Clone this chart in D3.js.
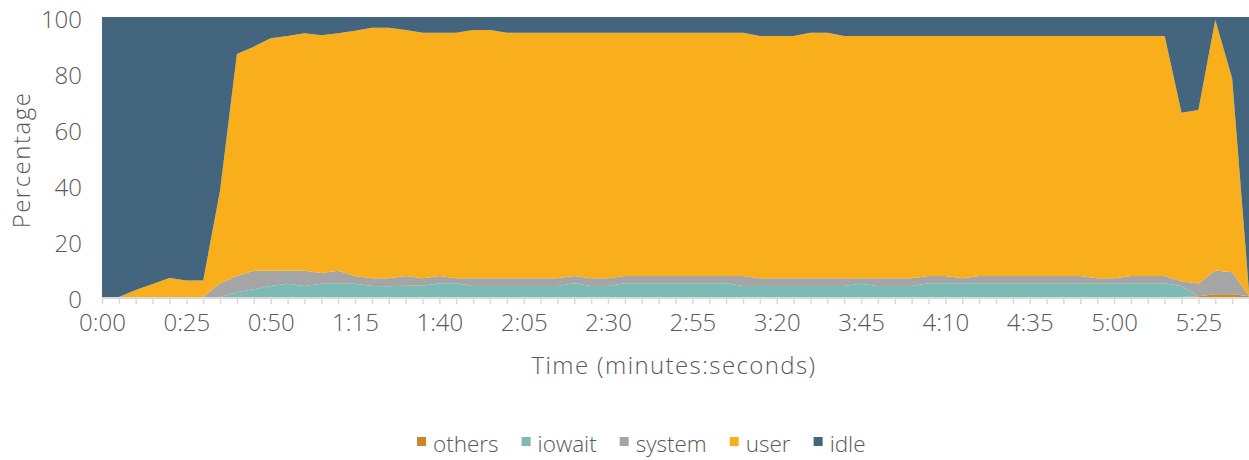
<!DOCTYPE html>
<html>
<head>
<meta charset="utf-8">
<script src="https://cdn.jsdelivr.net/npm/d3@7"></script>
<style>
  body { margin: 0; background: #fff; }
  svg { display: block; }
  text { font-family: "Open Sans", Lato, sans-serif; font-weight: 300; fill: #595959; }
</style>
</head>
<body>
<svg width="1249" height="460"></svg>
<script>
// CPU utilisation, one sample every 5 seconds (0:00 .. 5:40)
const seconds = d3.range(0, 345, 5);

const others = [0,0,0,0,0,0,0,0,0,0,
  0,0,0,0,0,0,0,0,0,0,
  0,0,0,0,0,0,0,0,0,0,
  0,0,0,0,0,0,0,0,0,0,
  0,0,0,0,0,0,0,0,0,0,
  0,0,0,0,0,0,0,0,0,0,
  0,0,0,0,0,0.3,1.0,1.0,0.3];

const iowait = [0,0,0,0,0,0,0,0,1.7,2.8,
  3.9,4.7,3.9,4.7,4.7,4.7,3.9,3.8,4.0,4.0,
  4.9,4.9,3.9,3.9,3.9,3.9,3.9,3.9,4.9,3.9,
  3.9,4.9,4.9,4.9,4.9,4.9,4.9,4.9,3.9,3.9,
  3.9,3.9,3.9,3.9,3.9,4.7,3.9,3.9,3.9,4.9,
  4.9,4.9,4.9,4.9,4.9,4.9,4.9,4.9,4.9,4.9,
  4.9,4.9,4.9,4.9,3.8,0,0,0,0];

const system = [0,0,0,0,0,0,0,4.9,5.8,6.6,
  5.5,4.7,5.5,3.9,4.7,2.8,2.8,2.9,3.5,2.7,
  2.6,1.8,2.8,2.8,2.8,2.8,2.8,2.8,2.6,2.8,
  2.8,2.6,2.6,2.6,2.6,2.6,2.6,2.6,3.6,2.8,
  2.8,2.8,2.8,2.8,2.8,2.0,2.8,2.8,2.8,2.6,
  2.6,1.8,2.6,2.6,2.6,2.6,2.6,2.6,2.6,1.8,
  1.8,2.6,2.6,2.6,1.8,4.5,8.5,7.8,0.1];

const user = [0,0,2.5,4.6,6.8,5.9,5.9,33.1,79.3,80.0,
  83.0,83.8,84.8,84.9,84.8,87.6,89.5,89.5,87.9,87.7,
  86.9,87.7,88.7,88.7,87.7,87.7,87.7,87.7,86.9,87.7,
  87.7,86.9,86.9,86.9,86.9,86.9,86.9,86.9,86.9,86.5,
  86.5,86.5,87.7,87.7,86.5,86.5,86.5,86.5,86.5,85.7,
  85.7,86.5,85.7,85.7,85.7,85.7,85.7,85.7,85.7,86.5,
  86.5,85.7,85.7,85.7,60.2,62.0,89.4,69.3,1.6];

const idle = [100,100,97.5,95.4,93.2,94.1,94.1,62.0,13.2,10.6,
  7.6,6.8,5.8,6.5,5.8,4.9,3.8,3.8,4.6,5.6,
  5.6,5.6,4.6,4.6,5.6,5.6,5.6,5.6,5.6,5.6,
  5.6,5.6,5.6,5.6,5.6,5.6,5.6,5.6,5.6,6.8,
  6.8,6.8,5.6,5.6,6.8,6.8,6.8,6.8,6.8,6.8,
  6.8,6.8,6.8,6.8,6.8,6.8,6.8,6.8,6.8,6.8,
  6.8,6.8,6.8,6.8,34.2,33.2,1.1,21.9,98.0];

const keys = ["others", "iowait", "system", "user", "idle"];
const colors = ["#C9892A", "#7CBAB4", "#A5A5A5", "#F9AF1C", "#43667E"];
const yTicks = [0, 20, 40, 60, 80, 100];

const table = seconds.map((t, i) => ({
  t: t, others: others[i], iowait: iowait[i], system: system[i], user: user[i], idle: idle[i]
}));

const svg = d3.select("svg");
const plotLeft = 102, plotRight = 1249, plotTop = 17, plotBottom = 297;

const x = d3.scaleLinear().domain([0, 340]).range([plotLeft, plotRight]);
const y = d3.scaleLinear().domain([0, 100]).range([plotBottom, plotTop]);
const color = d3.scaleOrdinal().domain(keys).range(colors);

const series = d3.stack().keys(keys)(table);

const area = d3.area()
  .x(d => x(d.data.t))
  .y0(d => y(d[0]))
  .y1(d => y(d[1]));

svg.append("g")
  .selectAll("path")
  .data(series)
  .enter().append("path")
  .attr("fill", d => color(d.key))
  .attr("d", area);

// x axis: tick at every sample, label every 25 s
const fmt = s => Math.floor(s / 60) + ":" + String(s % 60).padStart(2, "0");
const xAxis = svg.append("g")
  .attr("transform", `translate(0,${plotBottom + 1})`)
  .call(d3.axisBottom(x)
    .tickValues(seconds)
    .tickSize(6)
    .tickPadding(10)
    .tickFormat(s => s % 25 === 0 ? fmt(s) : ""));
xAxis.select(".domain").attr("stroke", "#D9D9D9").attr("stroke-width", 2)
  .attr("d", `M${plotLeft},0H${plotRight}`);
xAxis.selectAll(".tick line").attr("stroke", "#D9D9D9").attr("stroke-width", 1.5);
xAxis.selectAll(".tick text").style("font-size", "24px").attr("fill", "#595959");

// y axis: labels only
const yAxis = svg.append("g")
  .attr("transform", `translate(${plotLeft},0)`)
  .call(d3.axisLeft(y).tickValues(yTicks).tickSize(0).tickPadding(20));
yAxis.select(".domain").remove();
yAxis.selectAll(".tick text").style("font-size", "24px").attr("fill", "#595959")
  .attr("dy", "0.45em");

svg.append("text")
  .attr("transform", "translate(30,160) rotate(-90)")
  .attr("text-anchor", "middle")
  .style("font-size", "24px")
  .style("letter-spacing", "1.5px")
  .text("Percentage");

svg.append("text")
  .attr("x", 674)
  .attr("y", 374)
  .attr("text-anchor", "middle")
  .style("font-size", "24px")
  .style("letter-spacing", "1.4px")
  .text("Time (minutes:seconds)");

// legend
const legend = svg.append("g").attr("transform", "translate(417,0)");
let lx = 0;
keys.forEach((k, i) => {
  legend.append("rect")
    .attr("x", lx).attr("y", 437)
    .attr("width", 9).attr("height", 9)
    .attr("fill", colors[i]);
  const t = legend.append("text")
    .attr("x", lx + 16).attr("y", 452)
    .style("font-size", "22.5px")
    .text(k);
  lx += 16 + t.node().getComputedTextLength() + 23;
});
</script>
</body>
</html>
